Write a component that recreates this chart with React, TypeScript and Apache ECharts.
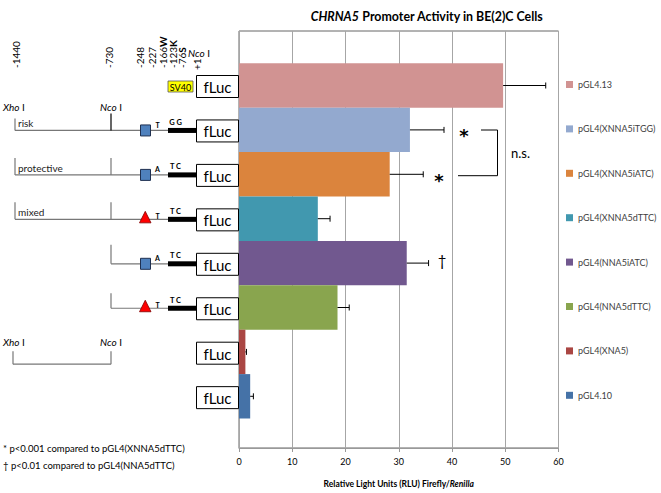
import React, { useEffect, useRef } from 'react';
import * as echarts from 'echarts';

const categories = [
  'pGL4.13',
  'pGL4(XNNA5iTGG)',
  'pGL4(XNNA5iATC)',
  'pGL4(XNNA5dTTC)',
  'pGL4(NNA5iATC)',
  'pGL4(NNA5dTTC)',
  'pGL4(XNA5)',
  'pGL4.10',
];
const values = [49.6, 32.1, 28.3, 14.8, 31.5, 18.5, 1.2, 2.1];
const errors = [8.0, 6.4, 6.3, 2.3, 4.1, 2.2, 0.2, 0.6];
const colors = ['#D19392', '#93A9CF', '#DB843D', '#4198AF', '#71588F', '#89A54E', '#AA4643', '#4572A7'];
const xMin = 0;
const xMax = 60;
const xInterval = 10;
const positionLabels = ['-1440', '-730', '-248', '-227', '-166W', '-123K', '-76S', '+1'];
const footnotes = ['* p<0.001 compared to pGL4(XNNA5dTTC)', '\u2020 p<0.01 compared to pGL4(NNA5dTTC)'];

const FONT = 'Lato, "Open Sans", sans-serif';

// diagram constructs (rows 1..5)
const constructs = [
  { start: 15, label: 'risk', marker: 'square', snp: 'T', pair: 'G G', tickDark: true, tickH: 12 },
  { start: 15, label: 'protective', marker: 'square', snp: 'A', pair: 'T C', tickDark: false, tickH: 17 },
  { start: 15, label: 'mixed', marker: 'triangle', snp: 'T', pair: 'T C', tickDark: false, tickH: 17 },
  { start: 111, label: '', marker: 'square', snp: 'A', pair: 'T C', tickDark: false, tickH: 19 },
  { start: 111, label: '', marker: 'triangle', snp: 'T', pair: 'T C', tickDark: false, tickH: 15 },
];

function buildGraphic() {
  const g: any[] = [];
  const rowY = (i: number) => 86.5 + 44.45 * i;
  const line = (x1: number, y1: number, x2: number, y2: number, stroke = '#777', lw = 1.2) =>
    g.push({ type: 'line', silent: true, shape: { x1, y1, x2, y2 }, style: { stroke, lineWidth: lw } });
  const txt = (x: number, y: number, text: string, o: any = {}) =>
    g.push({
      type: 'text',
      silent: true,
      x,
      y,
      rotation: o.rotation || 0,
      style: {
        text,
        fontFamily: o.fontFamily || FONT,
        fontSize: o.fontSize || 10,
        fontWeight: o.fontWeight || 'normal',
        fontStyle: o.fontStyle || 'normal',
        fill: o.fill || '#000',
        align: o.align || 'left',
        verticalAlign: o.verticalAlign || 'middle',
        rich: o.rich,
      },
    });

  // fLuc boxes
  for (let i = 0; i < 8; i++) {
    const cy = rowY(i);
    g.push({ type: 'rect', silent: true, shape: { x: 196.5, y: cy - 11, width: 42, height: 22 }, style: { fill: '#fff', stroke: '#000', lineWidth: 1 } });
    txt(217.5, cy + 0.5, 'fLuc', { fontSize: 15, align: 'center' });
  }
  // SV40
  {
    const cy = rowY(0);
    g.push({ type: 'rect', silent: true, shape: { x: 168, y: cy - 5.5, width: 25, height: 11 }, style: { fill: '#FFFF00', stroke: '#555', lineWidth: 0.8 } });
    txt(180.5, cy + 0.5, 'SV40', { fontSize: 9, align: 'center' });
  }
  // top position labels
  const px = [16, 109, 140, 152, 163, 173, 182, 197];
  positionLabels.forEach((lab, k) => {
    const m = lab.match(/^([-+]\d+)([A-Z]?)$/);
    const num = m ? m[1] : lab;
    const letter = m ? m[2] : '';
    txt(px[k], k === 7 ? 70 : 68, letter ? `{n|${num}}{b|${letter}}` : `{n|${num}}`, {
      rotation: Math.PI / 2,
      fontSize: 10,
      rich: {
        n: { fontFamily: FONT, fontSize: 10, fill: '#000' },
        b: { fontFamily: FONT, fontSize: 10, fontWeight: 'bold', fill: '#000' },
      },
    });
  });
  const enzyme = (x: number, y: number, name: string) =>
    txt(x, y, `{i|${name}}{n| I}`, {
      rich: {
        i: { fontFamily: FONT, fontSize: 10, fontStyle: 'italic', fill: '#000' },
        n: { fontFamily: FONT, fontSize: 10, fill: '#000' },
      },
    });
  enzyme(188, 53, 'Nco');

  // constructs
  constructs.forEach((c, k) => {
    const i = k + 1;
    const cy = rowY(i) - 0.5;
    line(c.start, cy, 168, cy);
    line(c.start, cy - c.tickH, c.start, cy);
    if (c.start === 15) {
      line(111, cy - 17, 111, cy, c.tickDark ? '#000' : '#777');
      txt(18, cy - 7, c.label, { fontSize: 10, fill: '#222' });
    }
    if (c.marker === 'square') {
      g.push({ type: 'rect', silent: true, shape: { x: 140.5, y: cy - 5.5, width: 10, height: 11 }, style: { fill: '#4F81BD', stroke: '#1F3050', lineWidth: 1 } });
      txt(157.5, cy - 5.5, c.snp, { fontSize: 7, fontWeight: 'bold', align: 'center' });
    } else {
      g.push({ type: 'polygon', silent: true, shape: { points: [[139.5, cy + 3.5], [151, cy + 3.5], [145.25, cy - 8]] }, style: { fill: '#FF0000', stroke: '#800000', lineWidth: 0.8 } });
      txt(157.5, cy - 3, c.snp, { fontSize: 7, fontWeight: 'bold', align: 'center' });
    }
    txt(175.5, cy - 8, c.pair, { fontSize: 7.5, fontWeight: 'bold', align: 'center' });
    g.push({ type: 'rect', silent: true, shape: { x: 168, y: cy - 2.5, width: 28.5, height: 5 }, style: { fill: '#000' } });
  });
  // Xho / Nco labels above row 1
  enzyme(3, rowY(1) - 24, 'Xho');
  enzyme(100, rowY(1) - 24, 'Nco');
  // row 6 bracket
  {
    const cy = rowY(6);
    enzyme(3, cy - 11, 'Xho');
    enzyme(100, cy - 11, 'Nco');
    line(13, cy - 2, 13, cy + 11);
    line(13, cy + 11, 111, cy + 11);
    line(111, cy - 2, 111, cy + 11);
  }
  // footnotes
  txt(3, 448, footnotes[0], { fontSize: 9.5 });
  txt(3, 465, footnotes[1], { fontSize: 9.5 });

  // significance annotations
  txt(464, 135.5, '*', { fontSize: 18, fontWeight: 'bold', align: 'center', fontFamily: '"DejaVu Sans", sans-serif' });
  txt(439, 180.5, '*', { fontSize: 18, fontWeight: 'bold', align: 'center', fontFamily: '"DejaVu Sans", sans-serif' });
  g.push({ type: 'polyline', silent: true, shape: { points: [[481, 130], [497.5, 130], [497.5, 175.7], [458, 175.7]] }, style: { stroke: '#000', lineWidth: 1, fill: 'none' } });
  txt(511, 153, 'n.s.', { fontSize: 13 });
  txt(442, 260, '\u2020', { fontSize: 15, align: 'center' });
  return g;
}

export default function App() {
  const ref = useRef<HTMLDivElement>(null);
  useEffect(() => {
    if (!ref.current) return;
    const chart = echarts.init(ref.current, null, { renderer: 'svg' });
    const barSeries = categories.map((name, i) => ({
      name,
      type: 'bar',
      stack: 'all',
      xAxisIndex: 1,
      yAxisIndex: 1,
      barCategoryGap: '0%',
      itemStyle: { color: colors[i] },
      data: categories.map((_, j) => (j === i ? values[i] : '-')),
    }));
    const errSeries = {
      name: 'error',
      type: 'custom',
      xAxisIndex: 1,
      yAxisIndex: 1,
      z: 5,
      encode: { x: 0, y: 1 },
      data: values.map((v, i) => [v, i, errors[i]]),
      renderItem: (params: any, api: any) => {
        const v = api.value(0);
        const i = api.value(1);
        const e = api.value(2);
        const p0 = api.coord([v, i]);
        const p1 = api.coord([v + e, i]);
        const st = { stroke: '#000', lineWidth: 1 };
        return {
          type: 'group',
          children: [
            { type: 'line', shape: { x1: p0[0], y1: p0[1], x2: p1[0], y2: p1[1] }, style: st },
            { type: 'line', shape: { x1: p1[0], y1: p1[1] - 3, x2: p1[0], y2: p1[1] + 3 }, style: st },
          ],
        };
      },
    };
    const barTop = 63.3;
    const pitch = 44.4;
    chart.setOption({
      animation: false,
      backgroundColor: '#fff',
      title: {
        left: 422,
        top: 5,
        textAlign: 'center',
        text: '{i|CHRNA5}{n| Promoter Activity in BE(2)C Cells}',
        textStyle: {
          rich: {
            i: { fontFamily: FONT, fontSize: 12.4, fontWeight: 'bold', fontStyle: 'italic', color: '#000' },
            n: { fontFamily: FONT, fontSize: 12.4, fontWeight: 'bold', color: '#000' },
          },
        },
      },
      legend: categories.map((name, i) => ({
        data: [name],
        left: 566,
        top: barTop + pitch * (i + 0.5) - 5.5,
        padding: 0,
        itemWidth: 7,
        itemHeight: 7,
        icon: 'rect',
        selectedMode: false,
        textStyle: { fontFamily: FONT, fontSize: 9, color: '#404040' },
      })),
      grid: [
        { left: 239, right: 102.5, top: 31, bottom: 41, show: true, borderColor: '#666', borderWidth: 1, backgroundColor: 'transparent' },
        { left: 239, right: 102.5, top: barTop, bottom: 493 - (barTop + pitch * 8) },
      ],
      xAxis: [
        {
          gridIndex: 0,
          type: 'value',
          min: xMin,
          max: xMax,
          interval: xInterval,
          axisLine: { show: true, lineStyle: { color: '#999' } },
          axisTick: { show: true, length: 4, lineStyle: { color: '#999' } },
          axisLabel: { fontFamily: FONT, fontSize: 9, color: '#000', margin: 9 },
          splitLine: { show: true, lineStyle: { color: '#a6a6a6' } },
          name: '{n|Relative Light Units (RLU) Firefly/}{i|Renilla}',
          nameLocation: 'middle',
          nameGap: 31,
          nameTextStyle: {
            rich: {
              n: { fontFamily: FONT, fontSize: 8.5, fontWeight: 'bold', color: '#000' },
              i: { fontFamily: FONT, fontSize: 8.5, fontWeight: 'bold', fontStyle: 'italic', color: '#000' },
            },
          },
        },
        { gridIndex: 1, type: 'value', min: xMin, max: xMax, show: false, splitLine: { show: false } },
      ],
      yAxis: [
        { gridIndex: 0, type: 'category', data: [''], show: false },
        { gridIndex: 1, type: 'category', data: categories, inverse: true, show: false },
      ],
      series: [...barSeries, errSeries],
      graphic: buildGraphic(),
    });
    return () => chart.dispose();
  }, []);
  return <div ref={ref} style={{ position: 'absolute', left: 0, top: 0, width: 661, height: 493 }} />;
}
